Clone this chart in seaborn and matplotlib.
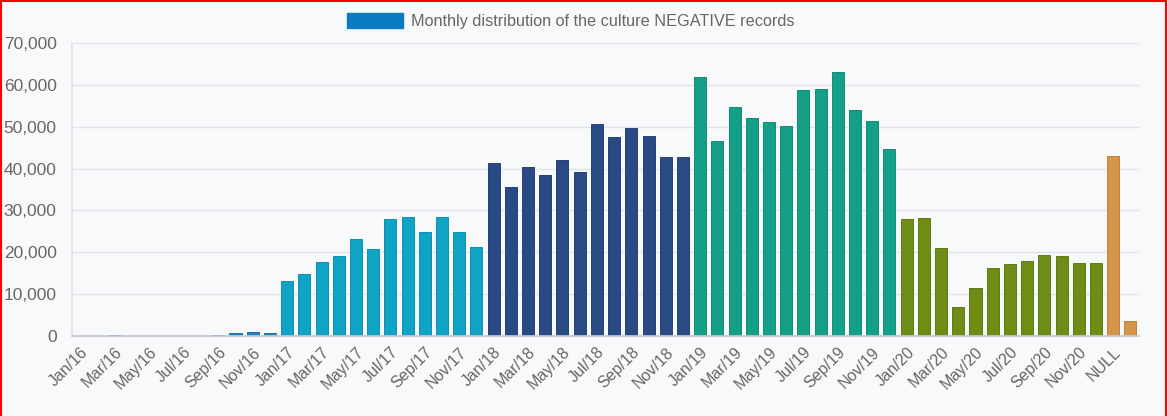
import matplotlib
matplotlib.use("Agg")
import matplotlib.pyplot as plt
from matplotlib.patches import Patch
from matplotlib.lines import Line2D
import seaborn as sns
import pandas as pd

# Monthly counts of culture-negative records, one list per year
months = ["Jan", "Feb", "Mar", "Apr", "May", "Jun",
          "Jul", "Aug", "Sep", "Oct", "Nov", "Dec"]
years = ["16", "17", "18", "19", "20"]

counts_2016 = [60, 0, 120, 0, 0, 0, 0, 0, 250, 700, 850, 650]
counts_2017 = [13050, 14750, 17600, 19100, 23100, 20700,
               27900, 28500, 24950, 28350, 24850, 21250]
counts_2018 = [41450, 35700, 40350, 38450, 41950, 39150,
               50700, 47500, 49600, 47850, 42750, 42800]
counts_2019 = [61800, 46600, 54800, 52200, 51200, 50100,
               58700, 58900, 63000, 54100, 51300, 44600]
counts_2020 = [28000, 28150, 21130, 7020, 11560, 16270,
               17220, 18000, 19400, 19200, 17460, 17540]
missing_labels = ["NULL", "(blank)"]
missing_counts = [43100, 3500]

group_colors = {
    "2016": "#1f80c2",
    "2017": "#0fa4c5",
    "2018": "#2a4a86",
    "2019": "#14a087",
    "2020": "#6e8c16",
    "missing": "#d5954b",
}

labels, values, groups = [], [], []
for yy, vals in zip(years, [counts_2016, counts_2017, counts_2018,
                            counts_2019, counts_2020]):
    for m, v in zip(months, vals):
        labels.append(f"{m}/{yy}")
        values.append(v)
        groups.append("20" + yy)
labels += missing_labels
values += missing_counts
groups += ["missing"] * len(missing_labels)

df = pd.DataFrame({"label": labels, "count": values, "group": groups})

sns.set_theme(style="white")
plt.rcParams["font.family"] = ["Liberation Sans", "DejaVu Sans"]

bg = "#f8f9fb"
fig = plt.figure(figsize=(11.68, 4.16), dpi=100, facecolor=bg)
ax = fig.add_axes([72 / 1168, 80 / 416, (1139 - 72) / 1168, (336 - 43) / 416])
ax.set_facecolor(bg)

sns.barplot(data=df, x="label", y="count", hue="group", palette=group_colors,
            dodge=False, width=0.7, legend=False, ax=ax, saturation=1)

# slightly darker outline on each bar
for p in ax.patches:
    fc = p.get_facecolor()
    p.set_edgecolor(tuple(c * 0.88 for c in fc[:3]) + (1,))
    p.set_linewidth(0.7)

ax.set_ylim(0, 70000)
ax.set_xlim(-0.5, len(labels) - 0.5)
ax.set_yticks(range(0, 70001, 10000))
ax.set_yticklabels([f"{v:,}" for v in range(0, 70001, 10000)])
ax.set_xticks(range(0, len(labels), 2))
ax.set_xticklabels(labels[::2], rotation=45, ha="right", rotation_mode="anchor")
ax.set_xlabel("")
ax.set_ylabel("")

ax.yaxis.grid(True, color="#e3e4e8", linewidth=1)
ax.set_axisbelow(True)
ax.tick_params(axis="y", length=7, color="#e3e4e8", labelsize=12.5,
               labelcolor="#666666", pad=4)
ax.tick_params(axis="x", length=0, labelsize=11.5, labelcolor="#666666", pad=6)
for s in ["top", "right"]:
    ax.spines[s].set_visible(False)
ax.spines["left"].set_color("#e3e4e8")
ax.spines["bottom"].set_color("#c4c7d2")

# legend
handle = Patch(facecolor="#0a7bc0", edgecolor="#0a7bc0")
fig.legend([handle], ["Monthly distribution of the culture NEGATIVE records"],
           loc="center", bbox_to_anchor=(571 / 1168, 1 - 21 / 416),
           frameon=False, fontsize=11.7, labelcolor="#666666",
           handlelength=3.45, handleheight=1.05, handletextpad=0.5)

# red frame on the top, left and right edges of the figure
for xs, ys in [([0.001, 0.001], [0, 0.998]),
               ([0.001, 0.998], [0.998, 0.998]),
               ([0.998, 0.998], [0.998, 0])]:
    fig.add_artist(Line2D(xs, ys, transform=fig.transFigure,
                          color="red", linewidth=1.5))

fig.savefig("out.png", dpi=100, facecolor=bg)
